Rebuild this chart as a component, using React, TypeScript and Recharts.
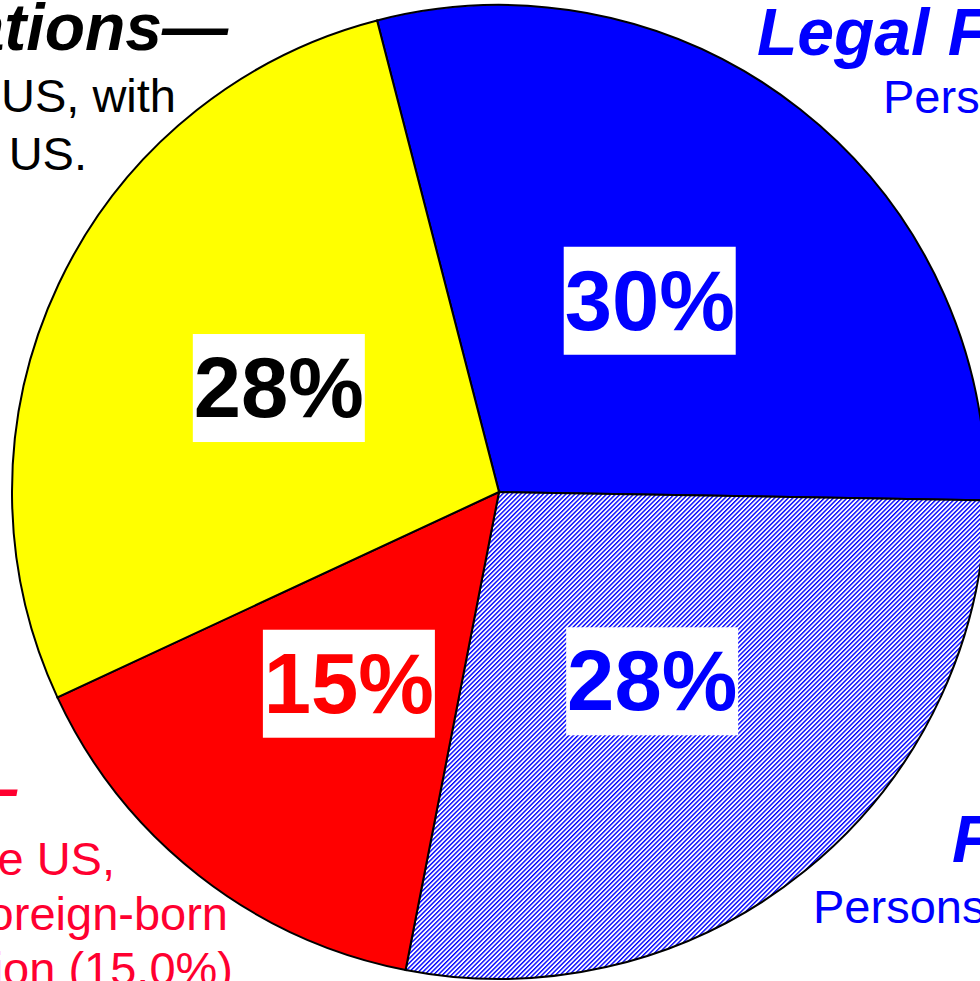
import React from 'react';
import { PieChart, Pie, Cell } from 'recharts';

const categories = ['Legal Foreign-Born', 'Future Immigrants', 'Second Generation', 'Later Generations'];
const shares = [29.3, 27.8, 15.0, 27.9];
const shareLabels = ['30%', '28%', '15%', '28%'];
const sliceFills = ['#0000FF', 'url(#hatchBlue)', '#FF0000', '#FFFF00'];
const labelColors = ['#0000FF', '#0000FF', '#FF0000', '#000000'];

const data = categories.map((name, i) => ({ name, value: shares[i], label: shareLabels[i], color: labelColors[i] }));

const FONT = '"Liberation Sans", Arial, Helvetica, sans-serif';
const RAD = Math.PI / 180;

const renderLabel = (props: any) => {
  const { cx, cy, midAngle, outerRadius, payload, index } = props;
  const r = outerRadius * 0.5;
  const x = cx + r * Math.cos(-midAngle * RAD);
  const y = cy + r * Math.sin(-midAngle * RAD);
  const lbl = payload?.label ?? shareLabels[index];
  const col = payload?.color ?? labelColors[index];
  return (
    <g key={`lbl-${index}`}>
      <rect x={x - 86} y={y - 54} width={172} height={108} fill="#FFFFFF" />
      <text x={x} y={y + 29} textAnchor="middle" fontFamily={FONT} fontWeight="bold" fontSize={85} fill={col}>
        {lbl}
      </text>
    </g>
  );
};

const titleStyle = { fontFamily: FONT, fontWeight: 'bold' as const, fontStyle: 'italic' as const, fontSize: 66 };
const bodyStyle = { fontFamily: FONT, fontSize: 47 };

export default function App() {
  return (
    <div style={{ position: 'absolute', left: 0, top: 0, width: 980, height: 981, overflow: 'hidden', background: '#fff' }}>
      <PieChart width={980} height={981} margin={{ top: 0, right: 0, bottom: 0, left: 0 }}>
        <defs>
          <pattern id="hatchBlue" width={3.2} height={3.2} patternUnits="userSpaceOnUse" patternTransform="rotate(45)">
            <rect x={0} y={0} width={3.2} height={3.2} fill="#FFFFFF" />
            <rect x={0} y={0} width={1.4} height={3.2} fill="#0000FF" />
          </pattern>
        </defs>
        <Pie
          data={data}
          dataKey="value"
          nameKey="name"
          cx={499}
          cy={492}
          outerRadius={487}
          innerRadius={0}
          startAngle={104.5}
          endAngle={-255.5}
          stroke="#000000"
          strokeWidth={2}
          label={renderLabel}
          labelLine={false}
          isAnimationActive={false}
        >
          {data.map((d, i) => (
            <Cell key={d.name} fill={sliceFills[i]} stroke="#000000" strokeWidth={2} />
          ))}
        </Pie>
        <g>
          <text x={228} y={50} textAnchor="end" style={titleStyle} fill="#000000">Later Generations—</text>
          <text x={176} y={112} textAnchor="end" style={bodyStyle} fill="#000000">Persons born in the US, with</text>
          <text x={87} y={170} textAnchor="end" style={bodyStyle} fill="#000000">parents born in the US.</text>

          <text x={757} y={55} textAnchor="start" style={titleStyle} fill="#0000FF">Legal Foreign-Born—</text>
          <text x={883} y={113} textAnchor="start" style={bodyStyle} fill="#0000FF">Persons born abroad</text>

          <text x={952} y={862} textAnchor="start" style={titleStyle} fill="#0000FF">Future Immigrants—</text>
          <text x={813} y={923} textAnchor="start" style={bodyStyle} fill="#0000FF">Persons arriving later</text>

          <text x={17} y={811} textAnchor="end" style={titleStyle} fill="#FF0030">Second Generation—</text>
          <text x={115} y={875} textAnchor="end" style={bodyStyle} fill="#FF0030">Persons born in the US,</text>
          <text x={228} y={930} textAnchor="end" style={bodyStyle} fill="#FF0030">with at least one foreign-born</text>
          <text x={233} y={985} textAnchor="end" style={bodyStyle} fill="#FF0030">parent population (15.0%)</text>
        </g>
      </PieChart>
    </div>
  );
}
